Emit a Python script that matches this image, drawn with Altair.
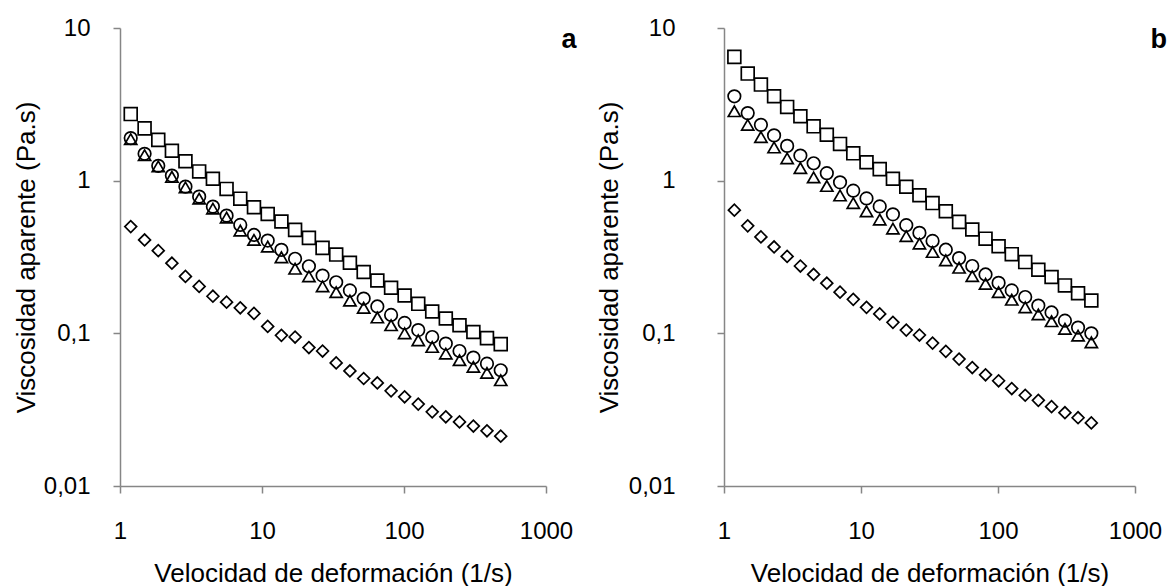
import altair as alt
import pandas as pd

# Shear rate (1/s), shared by both panels
shear_rate = [1.19, 1.49, 1.86, 2.32, 2.89, 3.61, 4.51, 5.63, 7.03, 8.78,
              10.97, 13.7, 17.1, 21.4, 26.7, 33.3, 41.6, 52.0, 64.9, 81.1,
              101, 126, 158, 197, 246, 308, 384, 480]

# Panel a
a_square = [2.73, 2.20, 1.85, 1.57, 1.34, 1.15, 1.03, 0.883, 0.762, 0.67,
            0.605, 0.54, 0.476, 0.422, 0.363, 0.328, 0.29, 0.252, 0.222, 0.199,
            0.177, 0.156, 0.139, 0.125, 0.113, 0.102, 0.093, 0.085]
a_circle = [1.90, 1.50, 1.25, 1.08, 0.914, 0.786, 0.676, 0.59, 0.513, 0.441,
            0.405, 0.352, 0.308, 0.275, 0.239, 0.216, 0.191, 0.169, 0.15, 0.132,
            0.117, 0.105, 0.0946, 0.0857, 0.0766, 0.0693, 0.0633, 0.0573]
a_triangle = [1.87, 1.47, 1.24, 1.06, 0.904, 0.762, 0.656, 0.573, 0.471, 0.409,
              0.37, 0.315, 0.265, 0.236, 0.203, 0.186, 0.164, 0.147, 0.127, 0.113,
              0.1, 0.09, 0.0814, 0.0736, 0.0667, 0.0603, 0.0551, 0.0493]
a_diamond = [0.5, 0.409, 0.348, 0.288, 0.236, 0.203, 0.175, 0.16, 0.147, 0.135,
             0.111, 0.097, 0.0946, 0.0807, 0.0766, 0.064, 0.0567, 0.0506, 0.0473, 0.042,
             0.0384, 0.0344, 0.0306, 0.0284, 0.0263, 0.0247, 0.023, 0.0212]

# Panel b
b_square = [6.47, 5.03, 4.26, 3.57, 3.04, 2.64, 2.27, 2.0, 1.74, 1.51,
            1.32, 1.19, 1.03, 0.913, 0.803, 0.713, 0.63, 0.537, 0.479, 0.417,
            0.372, 0.33, 0.293, 0.261, 0.234, 0.206, 0.183, 0.164]
b_circle = [3.57, 2.77, 2.32, 1.98, 1.69, 1.46, 1.30, 1.12, 0.975, 0.86,
            0.765, 0.678, 0.602, 0.511, 0.455, 0.403, 0.353, 0.311, 0.276, 0.243,
            0.214, 0.191, 0.173, 0.152, 0.137, 0.121, 0.109, 0.1]
b_triangle = [2.85, 2.32, 1.93, 1.65, 1.40, 1.21, 1.05, 0.923, 0.80, 0.713,
              0.63, 0.556, 0.485, 0.433, 0.387, 0.341, 0.301, 0.269, 0.237, 0.211,
              0.186, 0.166, 0.148, 0.133, 0.12, 0.107, 0.0966, 0.0873]
b_diamond = [0.641, 0.506, 0.428, 0.368, 0.319, 0.276, 0.243, 0.213, 0.186, 0.167,
             0.148, 0.134, 0.118, 0.105, 0.0975, 0.0863, 0.0762, 0.0678, 0.0597, 0.0535,
             0.0489, 0.0435, 0.0393, 0.0364, 0.0331, 0.0302, 0.028, 0.0259]

series_names = ["s1", "s2", "s3", "s4"]
series_shapes = ["square", "circle", "triangle-up", "diamond"]
series_sizes = [165, 140, 165, 105]

x_ticks = [1, 10, 100, 1000]
y_ticks = [0.01, 0.1, 1, 10]


def long_df(cols):
    rows = []
    for name, vals in zip(series_names, cols):
        for x, v in zip(shear_rate, vals):
            rows.append({"rate": x, "visc": v, "series": name})
    return pd.DataFrame(rows)


def panel(cols, w, h, label_pad, title_pad, letter, lx, ly, lalign):
    pts = alt.Chart(long_df(cols)).mark_point(
        filled=False, color="black", strokeWidth=1.7, opacity=1
    ).encode(
        x=alt.X("rate:Q",
                scale=alt.Scale(type="log", domain=[1, 1000], nice=False),
                axis=alt.Axis(values=x_ticks, format="d", labelFlush=False,
                              title="Velocidad de deformación (1/s)",
                              labelPadding=26, titlePadding=17)),
        y=alt.Y("visc:Q",
                scale=alt.Scale(type="log", domain=[0.01, 10], nice=False),
                axis=alt.Axis(values=y_ticks,
                              labelExpr="replace(toString(datum.value), '.', ',')",
                              title="Viscosidad aparente (Pa.s)",
                              labelPadding=label_pad, titlePadding=title_pad)),
        shape=alt.Shape("series:N", scale=alt.Scale(domain=series_names, range=series_shapes), legend=None),
        size=alt.Size("series:N", scale=alt.Scale(domain=series_names, range=series_sizes), legend=None),
    )
    txt = alt.Chart(pd.DataFrame({"t": [letter]})).mark_text(
        font="Liberation Sans", fontSize=27, fontWeight="bold", color="black",
        align=lalign, baseline="alphabetic"
    ).encode(text="t:N", x=alt.value(lx), y=alt.value(ly))
    return alt.layer(pts, txt).properties(width=w, height=h)


left = panel([a_square, a_circle, a_triangle, a_diamond], 426, 458, 23, 4, "a", 449, 20, "center")
right = panel([b_square, b_circle, b_triangle, b_diamond], 411, 458, 42, 6, "b", 443, 20, "right")

chart = alt.hconcat(left, right, spacing=19).properties(
    padding={"left": 13, "top": 16, "right": 0, "bottom": 0},
    background="white",
).configure_view(stroke=None).configure_axis(
    grid=False,
    domainColor="#868686", domainWidth=1.5,
    tickColor="#868686", tickWidth=1.5, tickSize=7,
    labelFont="Liberation Sans", labelFontSize=24, labelColor="black",
    titleFont="Liberation Sans", titleFontSize=26, titleFontWeight="normal", titleColor="black",
)

chart.save("out.html", embed_options={"renderer": "svg", "actions": False})
